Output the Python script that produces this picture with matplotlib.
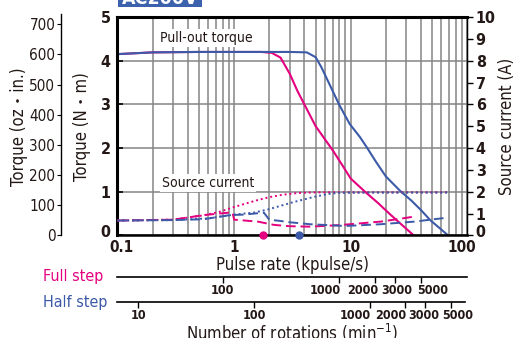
import numpy as np
import matplotlib.pyplot as plt
import matplotlib.transforms as mtransforms
from matplotlib.patches import Rectangle
from matplotlib.ticker import FixedLocator, NullLocator, NullFormatter

plt.rcParams['font.family'] = ['DejaVu Sans', 'Noto Sans CJK JP']
plt.rcParams['font.stretch'] = 'condensed'

PINK = '#e4007f'
BLUE = '#3c5aa8'
GRIDC = '#858585'
INK = '#231815'

# pull-out torque (N m) vs pulse rate (kpulse/s)
x_full = [0.1, 0.2, 0.5, 1.0, 1.7, 2.1, 2.5, 3.0, 3.5, 4.0, 5.0, 7.0, 8.5, 10, 13.5, 17, 22, 28, 34]
y_full = [4.15, 4.19, 4.2, 4.2, 4.2, 4.18, 4.07, 3.7, 3.3, 3.0, 2.5, 1.95, 1.6, 1.3, 0.98, 0.75, 0.47, 0.22, 0.02]
x_half = [0.1, 0.2, 0.5, 1, 2, 3, 4.2, 5.0, 5.6, 6.6, 8.0, 9.8, 12, 13.7, 16.5, 20, 26.5, 33, 40, 48, 57, 67]
y_half = [4.15, 4.19, 4.2, 4.2, 4.2, 4.2, 4.19, 4.08, 3.85, 3.45, 2.98, 2.55, 2.25, 2.02, 1.68, 1.35, 1.02, 0.8, 0.58, 0.35, 0.18, 0.02]

# source current (A), dotted
xc_full = [0.1, 0.3, 0.55, 0.75, 1.0, 1.3, 1.6, 2.0, 2.6, 3.5, 5, 10, 30, 67]
yc_full = [0.68, 0.72, 0.92, 1.08, 1.3, 1.48, 1.62, 1.75, 1.86, 1.94, 1.97, 1.97, 1.97, 1.97]
xc_half = [0.1, 0.3, 0.6, 1.0, 1.5, 2.0, 2.6, 3.2, 4.0, 5.0, 6.5, 8, 15, 67]
yc_half = [0.68, 0.7, 0.78, 0.95, 1.05, 1.2, 1.38, 1.52, 1.65, 1.78, 1.9, 1.95, 1.96, 1.96]

# source current (A), dashed
xd_full = [0.1, 0.3, 0.55, 0.9, 0.97, 1.0, 1.6, 2.2, 3.0, 4.5, 8, 12, 18, 25, 34]
yd_full = [0.68, 0.72, 0.93, 1.04, 1.04, 0.72, 0.63, 0.48, 0.42, 0.4, 0.47, 0.55, 0.63, 0.74, 0.85]
xd_half = [0.1, 0.3, 0.55, 0.92, 1.2, 1.8, 2.0, 2.5, 3.0, 4.5, 9, 18, 35, 67]
yd_half = [0.68, 0.7, 0.74, 0.93, 0.95, 1.04, 0.72, 0.66, 0.6, 0.51, 0.43, 0.51, 0.63, 0.81]

# starting pulse rate markers
start_full = 1.78
start_half = 3.6

rpm_full_ticks = [100, 1000, 2000, 3000, 5000]
rpm_half_ticks = [10, 100, 1000, 2000, 3000, 5000]
rpm_per_kpps_full = 125
rpm_per_kpps_half = 66
# sideways nudge of the crowded labels (points)
full_shift = [0, -10, -8.6, 1, 8.3]
half_shift = [0, 0, -10.8, -10, -1, 4.7]


def nudge(label, dx, dy):
    label.set_transform(label.get_transform() +
                        mtransforms.ScaledTranslation(dx / 72, dy / 72, fig.dpi_scale_trans))


fig = plt.figure(figsize=(5.29, 3.38), dpi=100)
L, B, W, H = 0.2221, 0.3036, 0.6614, 0.6461
ax = fig.add_axes([L, B, W, H])
ax.set_xscale('log')
ax.set_xlim(0.1, 100)
ax.set_ylim(0, 5)
ax.grid(which='both', axis='x', color=GRIDC, lw=1.1)
ax.grid(which='major', axis='y', color=GRIDC, lw=1.1)
ax.set_axisbelow(True)
ax.xaxis.set_major_locator(FixedLocator([0.1, 1, 10, 100]))
ax.set_xticklabels(['0.1', '1', '10', '100'], fontweight='bold', fontsize=11, color=INK)
ax.tick_params(axis='x', which='both', length=0, pad=3)
ax.set_yticks([0, 1, 2, 3, 4, 5])
ax.set_yticklabels(['0', '1', '2', '3', '4', '5'], fontweight='bold', fontsize=11.5, color=INK)
ax.tick_params(axis='y', direction='in', length=4, width=1.2, pad=5)
ax.spines['top'].set_linewidth(2.2)
ax.spines['left'].set_linewidth(2.2)
ax.spines['bottom'].set_linewidth(1.8)
ax.spines['right'].set_linewidth(1.0)
ax.set_xlabel('Pulse rate (kpulse/s)', fontsize=12, color=INK, labelpad=1)
ax.set_ylabel('Torque (N・m)', fontsize=12, color=INK, labelpad=7)
xl = ax.get_xticklabels()
nudge(xl[0], 3, 0)
nudge(xl[-1], -4, 0)
nudge(ax.get_yticklabels()[0], 0, 3)

ax.plot(x_full, y_full, color=PINK, lw=1.5)
ax.plot(x_half, y_half, color=BLUE, lw=1.5)
ax.plot([start_full], [0], 'o', color=PINK, ms=5, clip_on=False, zorder=5)
ax.plot([start_half], [0], 'o', color=BLUE, ms=5, clip_on=False, zorder=5)

ax.text(0.58, 4.52, 'Pull-out torque', ha='center', va='center', fontsize=10, color=INK,
        bbox=dict(facecolor='white', edgecolor='none', pad=1.5))
ax.text(0.6, 1.2, 'Source current', ha='center', va='center', fontsize=10, color=INK,
        bbox=dict(facecolor='white', edgecolor='none', pad=1.5))

# right axis: source current
ax2 = ax.twinx()
ax2.set_ylim(0, 10)
ax2.set_yticks(range(11))
ax2.set_yticklabels([str(i) for i in range(11)], fontweight='bold', fontsize=11.5, color=INK)
ax2.tick_params(axis='y', direction='out', length=4, width=1.0, pad=2)
for s in ['top', 'left', 'bottom']:
    ax2.spines[s].set_visible(False)
ax2.set_ylabel('Source current (A)', fontsize=12, color=INK, labelpad=2)
nudge(ax2.get_yticklabels()[0], 0, 3)
ax2.plot(xc_full, yc_full, color=PINK, lw=1.4, ls=(0, (1, 1.5)))
ax2.plot(xc_half, yc_half, color=BLUE, lw=1.4, ls=(0, (1, 1.5)))
ax2.plot(xd_full, yd_full, color=PINK, lw=1.4, ls=(0, (5, 2.5)))
ax2.plot(xd_half, yd_half, color=BLUE, lw=1.4, ls=(0, (5, 2.5)))

# far left axis: oz in
ax3 = ax.twinx()
ax3.set_ylim(0, 724)
ax3.yaxis.tick_left()
ax3.yaxis.set_label_position('left')
ax3.spines['left'].set_position(('axes', -0.162))
ax3.spines['left'].set_bounds(0, 735)
for s in ['top', 'right', 'bottom']:
    ax3.spines[s].set_visible(False)
ax3.spines['left'].set_linewidth(1.0)
ax3.set_yticks(range(0, 800, 100))
ax3.set_yticklabels([str(v) for v in range(0, 800, 100)], fontsize=11, color=INK)
ax3.tick_params(axis='y', direction='out', length=3, pad=1)
ax3.set_ylabel('Torque (oz・in.)', fontsize=12, color=INK, labelpad=1)

# rotation speed scales
def rpm_axis(y, width, factor, ticks, shifts):
    a = fig.add_axes([L, y, width, 0.001])
    a.set_xscale('log')
    a.set_xlim(0.1 * factor, 100 * factor)
    a.patch.set_visible(False)
    for s in ['top', 'left', 'right']:
        a.spines[s].set_visible(False)
    a.spines['bottom'].set_linewidth(1.2)
    a.set_yticks([])
    a.xaxis.set_major_locator(FixedLocator(ticks))
    a.xaxis.set_minor_locator(NullLocator())
    a.xaxis.set_major_formatter(NullFormatter())
    a.tick_params(axis='x', direction='out', length=4, width=1.0)
    for t, dx in zip(ticks, shifts):
        a.annotate(str(t), xy=(t, 0), xycoords=('data', 'axes fraction'),
                   xytext=(dx, -5), textcoords='offset points', ha='center', va='top',
                   fontweight='bold', fontsize=9, color=INK, annotation_clip=False)
    return a

ax_f = rpm_axis(1 - 276.7 / 338, W, rpm_per_kpps_full, rpm_full_ticks, full_shift)
ax_h = rpm_axis(1 - 301.7 / 338, (465 - 117.5) / 529, rpm_per_kpps_half, rpm_half_ticks, half_shift)
fig.text(292 / 529, 1 - 333 / 338, 'Number of rotations (min$^{-1}$)', fontsize=12, color=INK,
         ha='center', va='center')

fig.text(43 / 529, 1 - 277 / 338, 'Full step', color=PINK, fontsize=11.5, va='center', ha='left')
fig.text(43 / 529, 1 - 302 / 338, 'Half step', color=BLUE, fontsize=11.5, va='center', ha='left')

# voltage tag at top, partly cut off
fig.patches.append(Rectangle((118 / 529, 1 - 7 / 338), 84 / 529, 20 / 338,
                             transform=fig.transFigure, facecolor='#3d62ad', edgecolor='none'))
fig.text(160 / 529, 1 - 4 / 338, 'AC200V', color='white', fontsize=14, fontweight='bold',
         ha='center', va='baseline')

fig.savefig('out.png', dpi=100)
